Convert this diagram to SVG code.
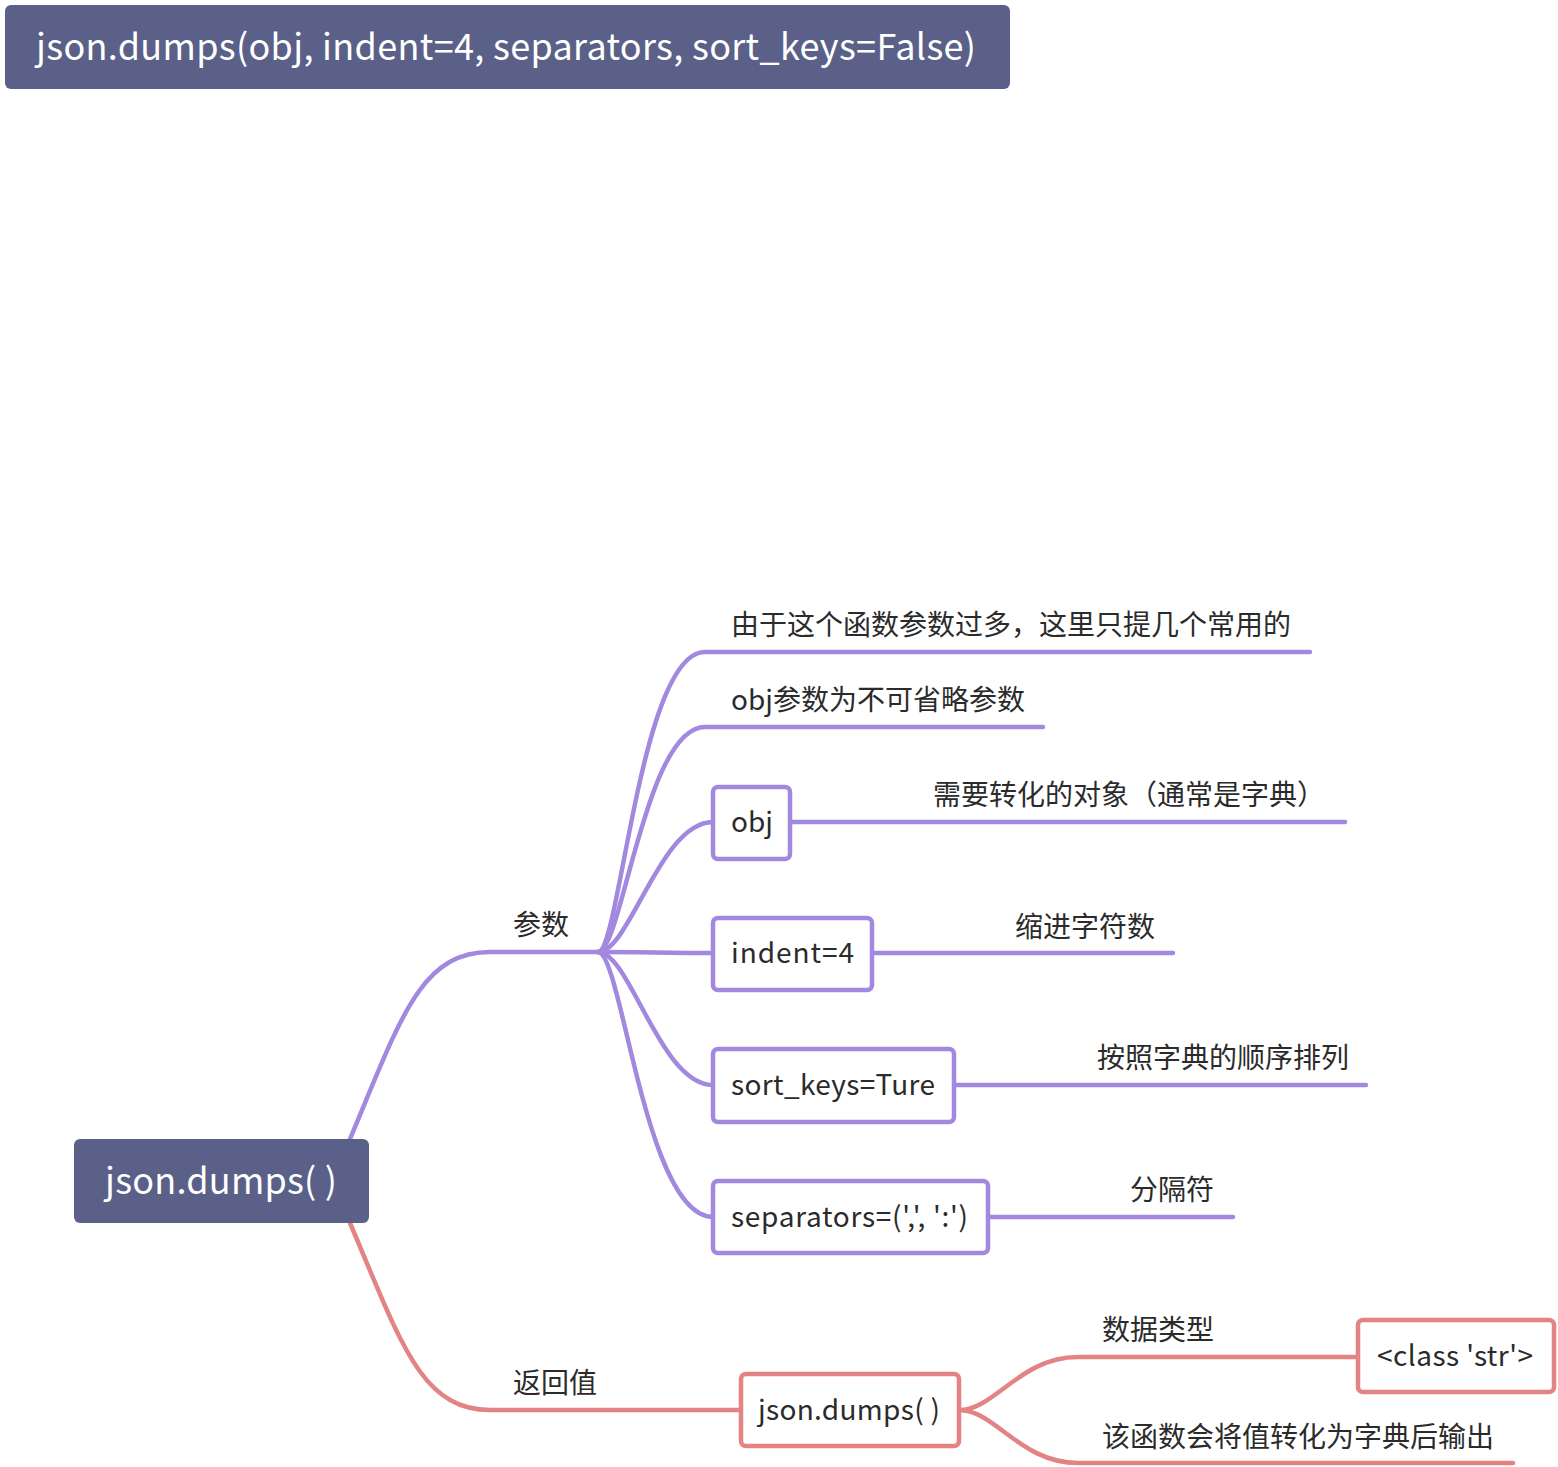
<svg xmlns="http://www.w3.org/2000/svg" width="1558" height="1467" viewBox="0 0 1558 1467">
<style>
text{font-family:"Noto Sans CJK SC","Noto Sans",sans-serif;font-size:28px;fill:#2b2b2b}
.hd{fill:#5a6087}
.hdt{fill:#ffffff;font-size:36px}
.pl{fill:none;stroke:#a288de;stroke-width:4.5;stroke-linecap:round}
.rl{fill:none;stroke:#e38383;stroke-width:4.5;stroke-linecap:round}
.pb{fill:#ffffff;stroke:#a288de;stroke-width:4.5}
.rb{fill:#ffffff;stroke:#e38383;stroke-width:4.5}
</style>
<rect width="1558" height="1467" fill="#ffffff"/>
<g id="connectors">
<path class="pl" d="M350,1139 C400,1020 420,952 490,952 L598,952"/>
<path class="pl" d="M598,952 C620,952 640,652 705,652 L1310,652"/>
<path class="pl" d="M598,952 C622,952 645,727 705,727 L1043,727"/>
<path class="pl" d="M598,952 C630,952 660,822 713,822"/>
<path class="pl" d="M598,952 C640,952 670,953 713,953"/>
<path class="pl" d="M598,952 C630,952 660,1085 713,1085"/>
<path class="pl" d="M598,952 C622,952 645,1217 713,1217"/>
<path class="pl" d="M790,822 L1345,822"/>
<path class="pl" d="M872,953 L1173,953"/>
<path class="pl" d="M954,1085 L1366,1085"/>
<path class="pl" d="M988,1217 L1233,1217"/>
<path class="rl" d="M350,1223 C400,1340 420,1410 490,1410 L741,1410"/>
<path class="rl" d="M959,1410 C995,1410 1020,1357 1078,1357 L1358,1357"/>
<path class="rl" d="M959,1410 C995,1410 1020,1463 1078,1463 L1513,1463"/>
</g>
<g id="title">
<rect class="hd" x="5" y="5" width="1005" height="84" rx="6"/>
<text class="hdt" x="36" y="60" textLength="940" lengthAdjust="spacing">json.dumps(obj, indent=4, separators, sort_keys=False)</text>
</g>
<g id="root">
<rect class="hd" x="74" y="1139" width="295" height="84" rx="6"/>
<text class="hdt" x="105" y="1194" textLength="232" lengthAdjust="spacing">json.dumps( )</text>
</g>
<g id="label-params"><text x="513" y="935">参数</text></g>
<g id="label-return"><text x="513" y="1393">返回值</text></g>
<g id="note1"><text x="731" y="635">由于这个函数参数过多，这里只提几个常用的</text></g>
<g id="note2"><text x="731" y="710">obj参数为不可省略参数</text></g>
<g id="obj">
<rect class="pb" x="713" y="787" width="77" height="72" rx="5"/>
<text x="731" y="832">obj</text>
</g>
<g id="obj-desc"><text x="933" y="805">需要转化的对象（通常是字典）</text></g>
<g id="indent">
<rect class="pb" x="713" y="918" width="159" height="72" rx="5"/>
<text x="731" y="963" textLength="123" lengthAdjust="spacing">indent=4</text>
</g>
<g id="indent-desc"><text x="1015" y="937">缩进字符数</text></g>
<g id="sortkeys">
<rect class="pb" x="713" y="1049" width="241" height="73" rx="5"/>
<text x="731" y="1095" textLength="204" lengthAdjust="spacing">sort_keys=Ture</text>
</g>
<g id="sortkeys-desc"><text x="1097" y="1068">按照字典的顺序排列</text></g>
<g id="separators">
<rect class="pb" x="713" y="1181" width="275" height="72" rx="5"/>
<text x="731" y="1227" textLength="237" lengthAdjust="spacing">separators=(',', ':')</text>
</g>
<g id="separators-desc"><text x="1130" y="1200">分隔符</text></g>
<g id="ret">
<rect class="rb" x="741" y="1374" width="218" height="72" rx="5"/>
<text x="758" y="1420" textLength="182" lengthAdjust="spacing">json.dumps( )</text>
</g>
<g id="ret-type-label"><text x="1102" y="1340">数据类型</text></g>
<g id="ret-type">
<rect class="rb" x="1358" y="1320" width="196" height="72" rx="5"/>
<text x="1377" y="1366" textLength="156" lengthAdjust="spacing">&lt;class 'str'&gt;</text>
</g>
<g id="ret-desc"><text x="1102" y="1447">该函数会将值转化为字典后输出</text></g>
</svg>
